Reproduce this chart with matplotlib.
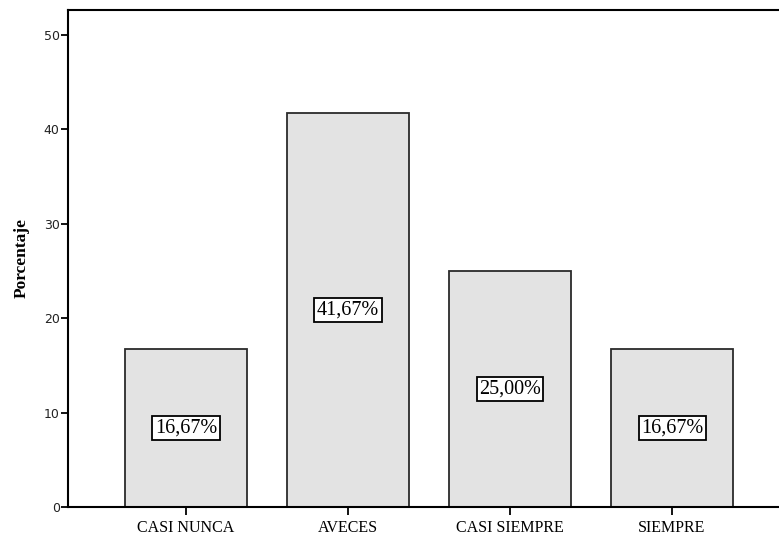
import numpy as np
import matplotlib.pyplot as plt

# DATA
categorias = ['CASI NUNCA', 'AVECES', 'CASI SIEMPRE', 'SIEMPRE']
porcentajes = [16.67, 41.67, 25.00, 16.67]
etiquetas = ['16,67%', '41,67%', '25,00%', '16,67%']

fig = plt.figure(figsize=(7.79, 5.41), dpi=100)
ax = fig.add_axes([68/779, 34/541, (779-68)/779, (507-10)/541])

x = np.arange(len(categorias))
ax.bar(x, porcentajes, width=0.75, color='#e3e3e3', edgecolor='#2b2b2b', linewidth=1.3)

# labels in boxes at bar middle
for xi, v, t in zip(x, porcentajes, etiquetas):
    ax.text(xi, v / 2, t, ha='center', va='center', fontsize=14.5,
            family='Liberation Serif',
            bbox=dict(boxstyle='square,pad=0.12', facecolor='white',
                      edgecolor='black', linewidth=1.3))

ax.set_xlim(-0.728, 3.66)
ax.set_ylim(0, 52.6)
ax.set_yticks([0, 10, 20, 30, 40, 50])
ax.set_xticks(x)
ax.set_xticklabels(categorias, family='Liberation Serif', fontsize=11.5)
ax.tick_params(axis='y', labelsize=9, direction='out', length=5, width=1.3, pad=1)
ax.tick_params(axis='x', direction='out', length=6, width=1.3, pad=3)
for lbl in ax.get_yticklabels():
    lbl.set_family('DejaVu Sans')
    lbl.set_color('#222222')

ax.set_ylabel('Porcentaje', family='Liberation Serif', fontweight='bold', fontsize=12.5, labelpad=10)

for s in ['left', 'bottom', 'top']:
    ax.spines[s].set_linewidth(1.5)
ax.spines['right'].set_visible(False)

fig.savefig('out.png', dpi=100)
